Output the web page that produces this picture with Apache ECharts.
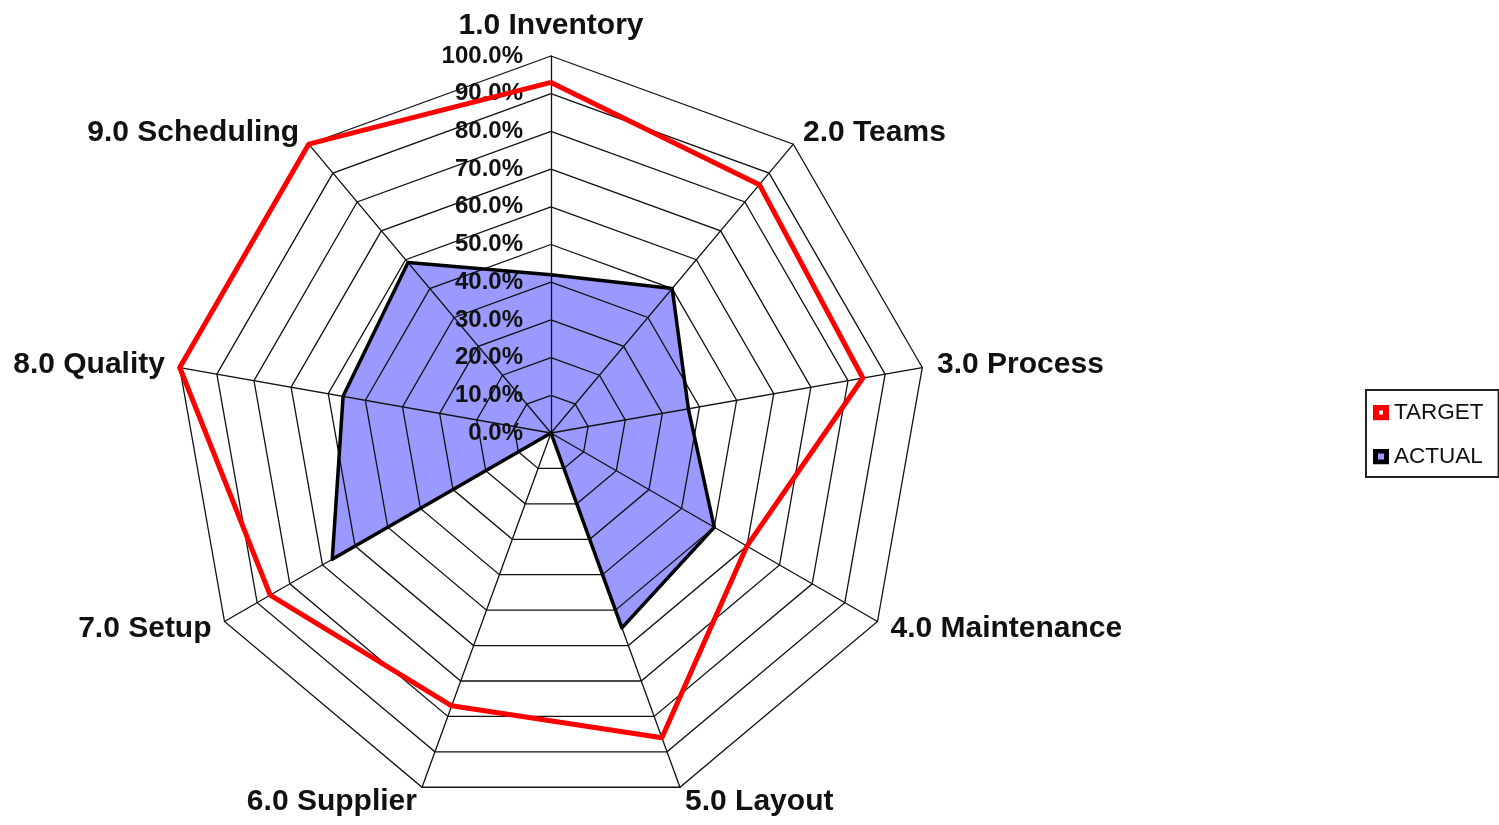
<!DOCTYPE html>
<html><head><meta charset="utf-8">
<script src="https://cdn.jsdelivr.net/npm/echarts@6/dist/echarts.min.js"></script>
<style>html,body{margin:0;padding:0;background:#fff}#c{width:1499px;height:825px}</style>
</head><body><div id="c"></div>
<script>
const categories = ['1.0 Inventory','2.0 Teams','3.0 Process','4.0 Maintenance','5.0 Layout','6.0 Supplier','7.0 Setup','8.0 Quality','9.0 Scheduling'];
const targetValues = [93, 86, 84, 60, 86, 77, 86, 100, 100];
const actualValues = [42, 50, 37, 50, 55, 0, 67, 56, 59];
const seriesNames = ['TARGET', 'ACTUAL'];
const axisMin = 0, axisMax = 100, axisSplits = 10;

// ECharts places radar indicators counter-clockwise; reorder so they run clockwise from the top.
const order = [0, 8, 7, 6, 5, 4, 3, 2, 1];
const pick = arr => order.map(i => arr[i]);

const font = '"Liberation Sans", Arial, sans-serif';
const indicators = pick(categories).map((name, k) => {
  const ind = { name: name, min: axisMin, max: axisMax };
  if (k === 0) {
    ind.axisLabel = {
      show: true, color: '#111', fontFamily: font, fontWeight: 'bold', fontSize: 24,
      margin: 28, formatter: v => v.toFixed(1) + '%'
    };
  }
  return ind;
});

function squareIcon(outer, inner, innerSize) {
  const o = (16 - innerSize) / 2;
  const svg = "<svg xmlns='http://www.w3.org/2000/svg' width='16' height='16'>" +
    "<rect width='16' height='16' fill='" + outer + "'/>" +
    "<rect x='" + o + "' y='" + o + "' width='" + innerSize + "' height='" + innerSize + "' fill='" + inner + "'/></svg>";
  return 'image://data:image/svg+xml;charset=utf-8,' + encodeURIComponent(svg);
}

const chart = echarts.init(document.getElementById('c'), null, { renderer: 'canvas' });
chart.setOption({
  animation: false,
  backgroundColor: '#fff',
  legend: {
    orient: 'vertical',
    left: 1366, top: 390,
    padding: [11, 15, 9, 7],
    itemGap: 21,
    itemWidth: 16, itemHeight: 16,
    borderColor: '#222', borderWidth: 2,
    textStyle: { fontFamily: font, fontSize: 22.5, color: '#111' },
    data: [
      { name: seriesNames[0], icon: squareIcon('#ff0000', '#ffffff', 4) },
      { name: seriesNames[1], icon: squareIcon('#000000', '#9999ff', 6) }
    ]
  },
  radar: {
    z: 2,
    center: [551, 433],
    radius: 377,
    startAngle: 90,
    splitNumber: axisSplits,
    shape: 'polygon',
    axisName: { color: '#111', fontFamily: font, fontWeight: 'bold', fontSize: 30 },
    nameGap: 15,
    axisLine: { lineStyle: { color: '#111', width: 1.3 } },
    axisTick: { show: false },
    axisLabel: { show: false },
    splitLine: { lineStyle: { color: '#111', width: 1.3 } },
    splitArea: { show: false },
    indicator: indicators
  },
  series: [
    {
      type: 'radar', z: 1, symbol: 'none', silent: true,
      data: [{ name: seriesNames[1], value: pick(actualValues),
        lineStyle: { width: 0, opacity: 0 }, areaStyle: { color: '#9999ff', opacity: 1 } }]
    },
    {
      type: 'radar', z: 3, symbol: 'none',
      data: [
        { name: seriesNames[0], value: pick(targetValues), lineStyle: { color: '#ff0000', width: 5 }, itemStyle: { color: '#ff0000' } },
        { name: seriesNames[1], value: pick(actualValues), lineStyle: { color: '#000', width: 3.5 }, itemStyle: { color: '#000' } }
      ]
    }
  ]
});
</script></body></html>
